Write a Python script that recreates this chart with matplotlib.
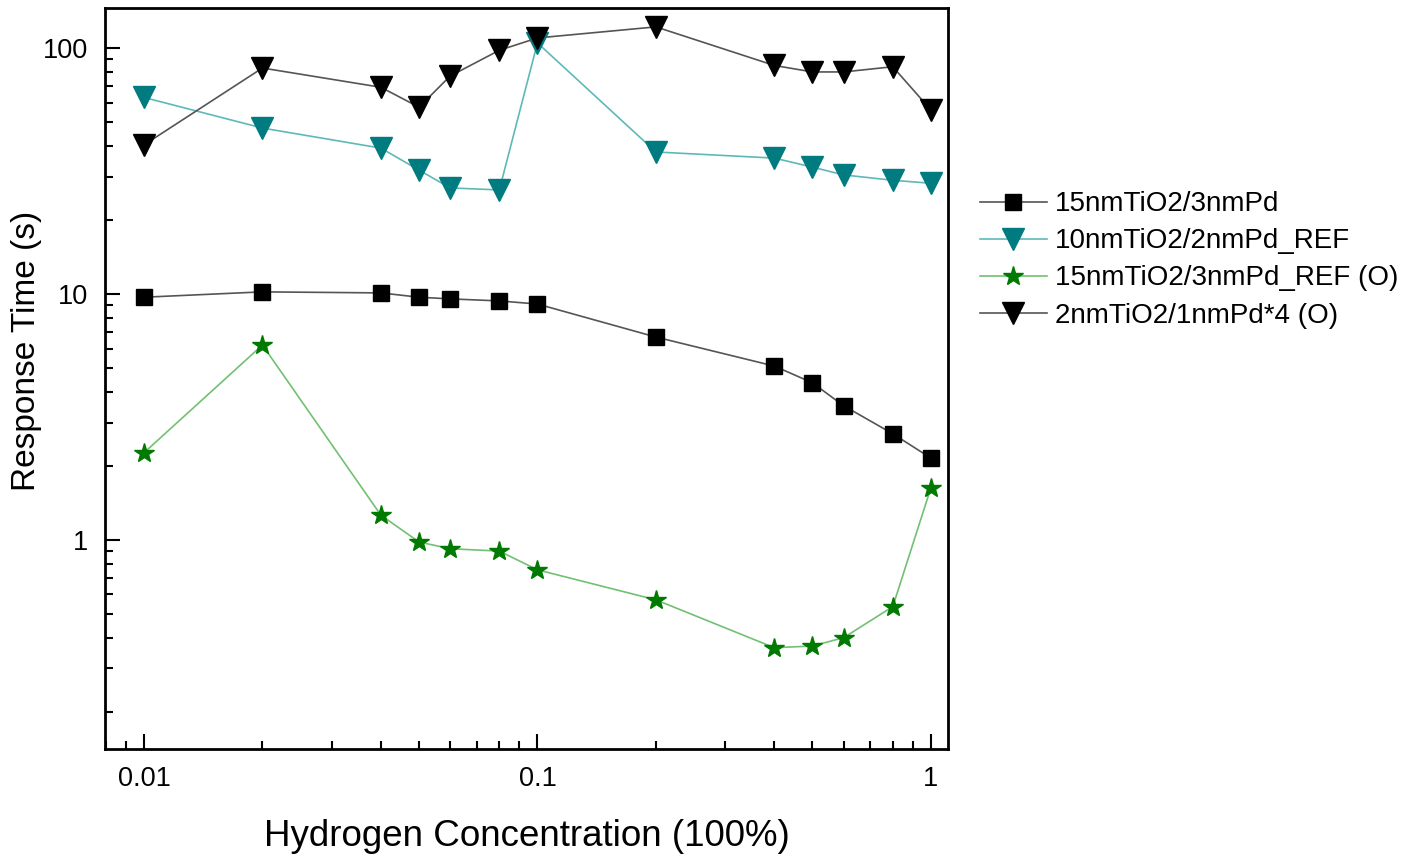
import numpy as np
import matplotlib
matplotlib.use("Agg")
import matplotlib.pyplot as plt
from matplotlib.ticker import LogLocator, FixedFormatter, FixedLocator, NullFormatter

plt.rcParams['font.family'] = ['Liberation Sans', 'DejaVu Sans']

# Concentración de hidrógeno (eje x)
conc = [0.01, 0.02, 0.04, 0.05, 0.06, 0.08, 0.1, 0.2, 0.4, 0.5, 0.6, 0.8, 1.0]

# Tiempos de respuesta (s)
t_15nm = [9.7, 10.2, 10.1, 9.7, 9.55, 9.37, 9.1, 6.68, 5.09, 4.35, 3.51, 2.70, 2.15]
t_10nm_ref = [63, 47.3, 39.2, 31.9, 27.0, 26.5, 105, 37.8, 35.7, 32.8, 30.5, 29.0, 28.2]
t_15nm_ref_o = [2.26, 6.2, 1.26, 0.98, 0.92, 0.90, 0.755, 0.57, 0.364, 0.37, 0.40, 0.535, 1.63]
t_2nm_o = [40.4, 83, 69.3, 57.5, 77, 98, 110, 122, 85, 80, 80, 84, 56]

etiquetas = ["15nmTiO2/3nmPd", "10nmTiO2/2nmPd_REF",
             "15nmTiO2/3nmPd_REF (O)", "2nmTiO2/1nmPd*4 (O)"]

fig = plt.figure(figsize=(14.04, 8.57), dpi=100)
ax = fig.add_axes([105/1404, 1 - 749/857, 843/1404, 741/857])

ax.plot(conc, t_15nm, color='#555555', lw=1.2, marker='s', ms=12,
        mfc='black', mec='black', label=etiquetas[0])
ax.plot(conc, t_10nm_ref, color='#5fb8b8', lw=1.2, marker='v', ms=16,
        mfc='#007c80', mec='#007c80', label=etiquetas[1])
ax.plot(conc, t_15nm_ref_o, color='#72c072', lw=1.2, marker='*', ms=15,
        mfc='#007a00', mec='#007a00', label=etiquetas[2])
ax.plot(conc, t_2nm_o, color='#555555', lw=1.2, marker='v', ms=16,
        mfc='black', mec='black', label=etiquetas[3])

ax.set_xscale('log')
ax.set_yscale('log')
ax.set_xlim(0.00796, 1.105)
ax.set_ylim(0.141, 145.6)

ax.xaxis.set_major_locator(FixedLocator([0.01, 0.1, 1]))
ax.xaxis.set_major_formatter(FixedFormatter(['0.01', '0.1', '1']))
ax.xaxis.set_minor_locator(LogLocator(base=10, subs=np.arange(2, 10)))
ax.xaxis.set_minor_formatter(NullFormatter())
ax.yaxis.set_major_locator(FixedLocator([1, 10, 100]))
ax.yaxis.set_major_formatter(FixedFormatter(['1', '10', '100']))
ax.yaxis.set_minor_locator(LogLocator(base=10, subs=np.arange(2, 10)))
ax.yaxis.set_minor_formatter(NullFormatter())

ax.tick_params(which='both', direction='in', top=False, right=False, labelsize=19.5)
ax.tick_params(which='major', length=11, width=1.5, pad=12)
ax.tick_params(which='minor', length=5.5, width=1.5)
for s in ax.spines.values():
    s.set_linewidth(2)

ax.set_xlabel('Hydrogen Concentration (100%)', fontsize=26.5, labelpad=20)
ax.set_ylabel('Response Time (s)', fontsize=24)
ax.yaxis.set_label_coords(-0.075, 0.537)

ax.legend(loc='center left', bbox_to_anchor=(1.038, 0.660), frameon=False,
          fontsize=20, borderaxespad=0, borderpad=0, handlelength=2.4,
          handletextpad=0.3, labelspacing=0.4)

fig.savefig('out.png', dpi=100)
